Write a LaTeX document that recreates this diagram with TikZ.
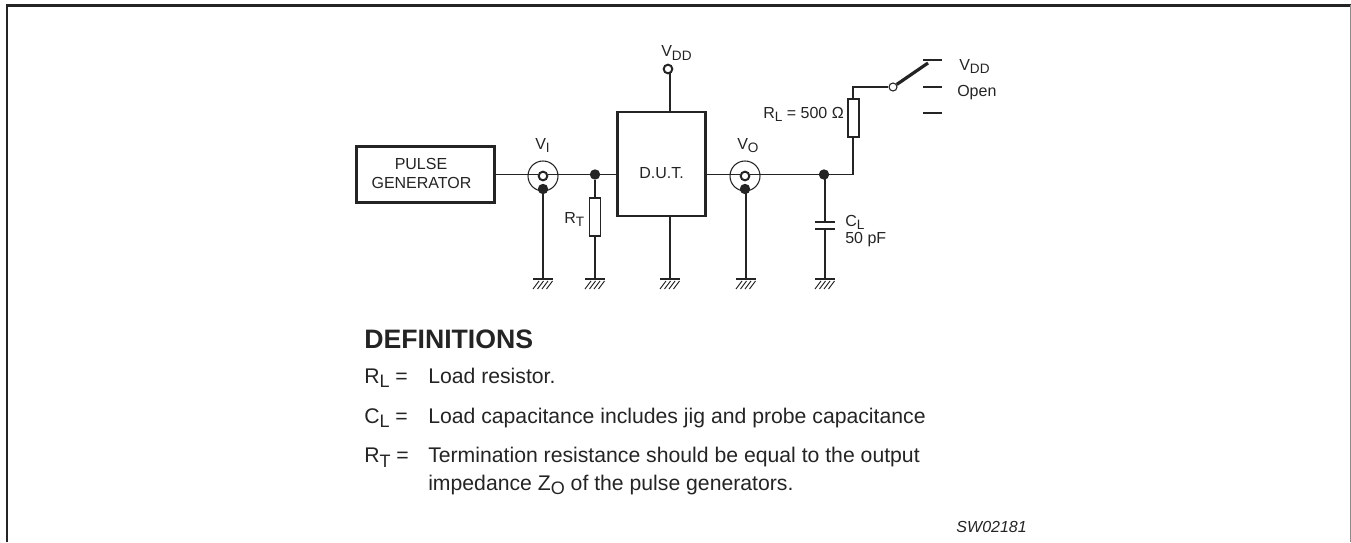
\documentclass[tikz,border=0pt]{standalone}
\usepackage{fontspec}
\setmainfont{Liberation Sans}
\newcommand{\sbx}[1]{\raisebox{-.22em}{\scalebox{.85}{#1}}}
\definecolor{ink}{gray}{0.14}
\tikzset{
  x=0.75pt, y=-0.75pt,
  wire/.style={draw=ink, line width=0.95pt},
  heavy/.style={draw=ink, line width=2.1pt},
  compbox/.style={draw=ink, fill=white, line width=0.9pt, minimum width=8.3pt, minimum height=28.5pt, inner sep=0pt},
  bigbox/.style={draw=ink, line width=2.1pt, fill=white, inner sep=0pt, align=center},
  dot/.style={circle, fill=ink, draw=none, minimum size=7.8pt, inner sep=0pt},
  ring/.style={circle, draw=ink, fill=white, line width=1.5pt, minimum size=6.5pt, inner sep=0pt},
  coax/.style={circle, draw=ink, fill=white, line width=0.8pt, minimum size=22.5pt, inner sep=0pt},
  hinge/.style={circle, draw=ink, fill=white, line width=0.8pt, minimum size=6pt, inner sep=0pt},
  lbl/.style={text=ink, font=\fontsize{12}{14}\selectfont, anchor=base west, inner sep=0pt},
  def/.style={text=ink, font=\fontsize{15.9}{19}\selectfont, anchor=base west, inner sep=0pt},
  gnd/.pic={
    \draw[draw=ink, line width=2pt] (-10,0) -- (10,0);
    \foreach \k in {-7,-2.5,2,6.5}{\draw[draw=ink, line width=0.7pt] (\k+3,2) -- (\k-3,10);}
  }
}
\begin{document}
\begin{tikzpicture}
\useasboundingbox (0,0) rectangle (1351,542);
% frame
\path[draw=ink, line width=1.7pt] (7,542) -- (7,5.5) -- (1351,5.5);
\path[draw=black!45, line width=1.1pt] (1350.3,5.5) -- (1350.3,542);

% junction coordinates
\coordinate (g1) at (543,279);
\coordinate (g2) at (595,279);
\coordinate (g3) at (670,279);
\coordinate (g4) at (746,279);
\coordinate (g5) at (825,279);
\coordinate (rlj) at (853,174.5);
\coordinate (rtop) at (853,87);
\coordinate (armend) at (928,63);
\coordinate (c1a) at (825,222);
\coordinate (c1b) at (825,229);

\node[ring] (vddtop) at (668,69) {};
\node[coax] (vi) at (543,176) {};
\node[coax] (vo) at (745,176) {};
\node[bigbox, minimum width=103.5pt, minimum height=42pt] (pg) at (425.5,174.5) {};
\node[bigbox, minimum width=66.5pt, minimum height=78pt] (dut) at (661.5,164) {};
\node[dot] (n1) at (595,174.5) {};
\node[dot] (n2) at (824,174.5) {};
\node[dot] (vig) at (543,189) {};
\node[dot] (vog) at (745,189) {};
\node[ring] (vic) at (543,176) {};
\node[ring] (voc) at (745,176) {};
\node[hinge] (sw) at (893,87) {};

\draw[wire] (pg.east |- n1) -- (vic.west |- n1);
\draw[wire] (vic.east |- n1) -- (n1);
\draw[wire] (n1) -- (dut.west |- n1);
\draw[wire] (dut.east |- n1) -- (voc.west |- n1);
\draw[wire] (voc.east |- n1) -- (n2);
\draw[wire] (n2) -- (rlj) -- (rtop) -- (sw);
\draw[wire] (670,73) -- (670,112);
\draw[wire] (670,216) -- (g3);
\draw[wire] (vig) -- (g1);
\draw[wire] (n1) -- (g2);
\draw[wire] (746,189) -- (g4);
\draw[wire] (c1a) -- (825,175);
\draw[wire] (c1b) -- (g5);
\node[compbox] (rt) at (595,217) {};
\node[compbox] (rl) at (853.5,118) {};

% capacitor
\draw[heavy] (815,222) -- (835,222);
\draw[heavy] (815,229) -- (835,229);

% switch
\draw[draw=ink, line width=2.4pt] (sw) -- (armend);
\coordinate (t1a) at (923,60); \coordinate (t1b) at (942,60);
\coordinate (t2a) at (923,87); \coordinate (t2b) at (942,87);
\coordinate (t3a) at (923,113); \coordinate (t3b) at (942,113);
\draw[wire] (t1a) -- (t1b);
\draw[wire] (t2a) -- (t2b);
\draw[wire] (t3a) -- (t3b);

% grounds
\path (g1) pic {gnd};
\path (g2) pic {gnd};
\path (g3) pic {gnd};
\path (g4) pic {gnd};
\path (g5) pic {gnd};

% labels
\node[lbl, anchor=base] (tp) at (421,169) {PULSE};
\node[lbl, anchor=base] (tg) at (421.5,188) {GENERATOR};
\node[lbl, anchor=base] (td) at (661.5,178) {D.U.T.};
\node[lbl] (lvdd) at (661,57) {V\sbx{DD}};
\node[lbl] (lvi) at (535,149) {V\sbx{I}};
\node[lbl] (lvo) at (737,149) {V\sbx{O}};
\node[lbl] (lrt) at (564,223) {R\sbx{T}};
\node[lbl] (lrl) at (763,118) {R\sbx{L} = 500 Ω};
\node[lbl] (lcl) at (845,226) {C\sbx{L}};
\node[lbl] (lcv) at (845,243.5) {50 pF};
\node[lbl] (lv2) at (959,70) {V\sbx{DD}};
\node[lbl] (lop) at (957,96) {Open};

\node[text=ink, font=\fontsize{20}{24}\selectfont\bfseries, anchor=base west, inner sep=0pt] (defh) at (364,348) {DEFINITIONS};
\node[def] (d1k) at (364,383) {R\sbx{L} =};
\node[def] (d1v) at (428,383) {Load resistor.};
\node[def] (d2k) at (364,423) {C\sbx{L} =};
\node[def] (d2v) at (428,423) {Load capacitance includes jig and probe capacitance};
\node[def] (d3k) at (364,462.5) {R\sbx{T} =};
\node[def] (d3v) at (428,462.5) {Termination resistance should be equal to the output};
\node[def] (d4v) at (428,490) {impedance Z\sbx{O} of the pulse generators.};
\node[text=ink, font=\fontsize{12}{14}\selectfont\itshape, anchor=base east, inner sep=0pt] (sw2) at (1027,532) {SW02181};
\end{tikzpicture}
\end{document}
